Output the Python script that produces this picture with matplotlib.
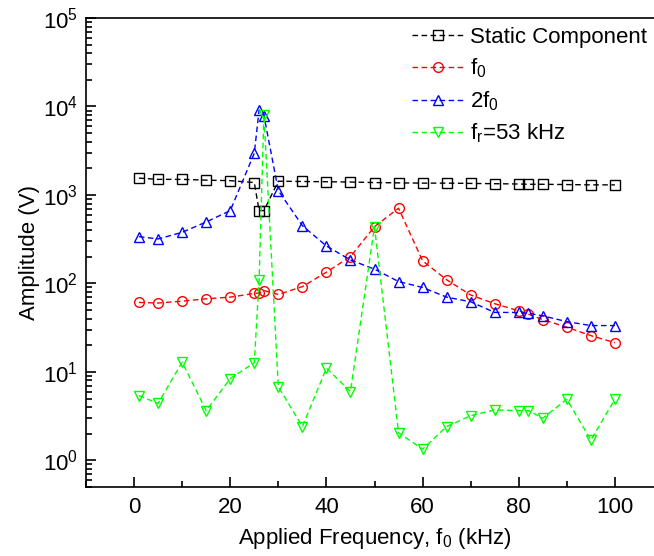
import matplotlib
matplotlib.use("Agg")
import matplotlib.pyplot as plt
from matplotlib.ticker import MultipleLocator, LogLocator, NullFormatter

plt.rcParams['font.family'] = ['Liberation Sans', 'DejaVu Sans']
plt.rcParams['mathtext.fontset'] = 'custom'
plt.rcParams['mathtext.rm'] = 'Liberation Sans'
plt.rcParams['mathtext.it'] = 'Liberation Sans'

freq = [1, 5, 10, 15, 20, 25, 26, 27, 30, 35, 40, 45, 50, 55, 60, 65, 70, 75, 80, 82, 85, 90, 95, 100]

static = [1550, 1500, 1500, 1470, 1450, 1380, 665, 665, 1430, 1420, 1410, 1400, 1380, 1370,
          1360, 1360, 1350, 1340, 1330, 1320, 1320, 1310, 1300, 1300]
f0 = [61, 60, 63, 67, 70, 77, 78, 83, 75, 92, 134, 201, 438, 708,
      180, 110, 74, 59, 49, 45, 39, 32, 25.7, 21.4]
two_f0 = [338, 318, 378, 495, 665, 2960, 9100, 7900, 1120, 450, 265, 184, 145, 105,
          90, 70, 62, 47, 47, 46, 43, 37, 33.4, 33.4]
fr = [5.4, 4.4, 12.9, 3.65, 8.4, 12.7, 110, 8000, 6.8, 2.41, 11, 6.0, 438, 2.05,
      1.34, 2.41, 3.2, 3.72, 3.65, 3.65, 3.0, 4.9, 1.70, 4.9]

labels = ['Static Component', '$\\mathdefault{f_0}$', '$\\mathdefault{2f_0}$', '$\\mathdefault{f_r}$=53 kHz']

fs = 16
fig = plt.figure(figsize=(6.54, 5.56), dpi=100)
ax = fig.add_axes([86/654, (556-487)/556, 577/654, 469/556])

ms = 7
kw = dict(linestyle=(0, (4, 2.5)), linewidth=1.0, markerfacecolor='none', markersize=ms, markeredgewidth=1.0)
ax.plot(freq, static, color='black', marker='s', label=labels[0], **kw)
ax.plot(freq, f0, color='#ff0000', marker='o', label=labels[1], **kw)
ax.plot(freq, two_f0, color='#0000ff', marker='^', label=labels[2], **kw)
ax.plot(freq, fr, color='#00ff00', marker='v', label=labels[3], **kw)

ax.set_yscale('log')
ax.set_xlim(-10, 110)
ax.set_ylim(0.5, 1e5)
ax.xaxis.set_major_locator(MultipleLocator(20))
ax.xaxis.set_minor_locator(MultipleLocator(10))
ax.yaxis.set_major_locator(LogLocator(base=10, numticks=10))
ax.yaxis.set_minor_locator(LogLocator(base=10, subs=range(2, 10), numticks=20))
ax.yaxis.set_minor_formatter(NullFormatter())

for s in ax.spines.values():
    s.set_linewidth(1.2)
ax.tick_params(axis='both', which='major', direction='in', length=7, width=1.2, labelsize=fs)
ax.tick_params(axis='both', which='minor', direction='in', length=4, width=1.2)
ax.tick_params(axis='x', which='major', pad=7)
ax.tick_params(axis='y', which='major', pad=6)

ax.set_xlabel('Applied Frequency, $\\mathdefault{f_0}$ (kHz)', fontsize=fs, labelpad=6)
ax.set_ylabel('Amplitude (V)', fontsize=fs, labelpad=2)

leg = ax.legend(loc='upper left', bbox_to_anchor=(412/654, 1 - 27/556), bbox_transform=fig.transFigure,
                frameon=False, fontsize=fs, handlelength=2.3, handletextpad=0.3,
                labelspacing=0.4, borderaxespad=0, borderpad=0)

fig.savefig('out.png', dpi=100)
